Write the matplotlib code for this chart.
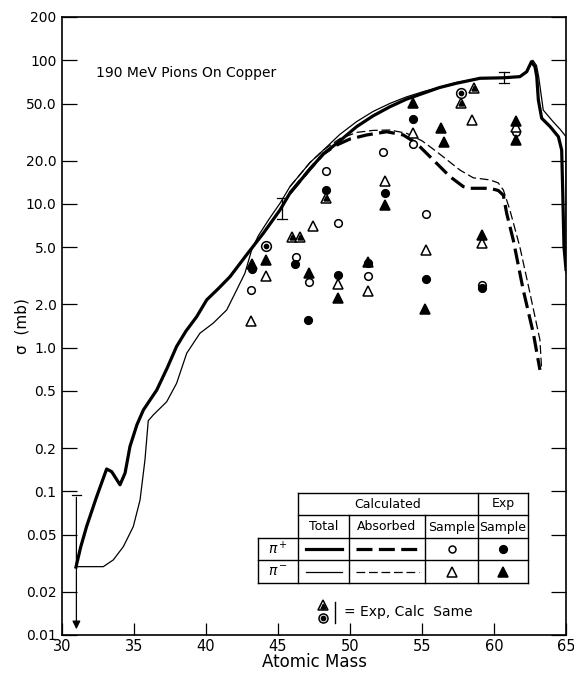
import numpy as np
import matplotlib
matplotlib.use("Agg")
import matplotlib.pyplot as plt
from matplotlib.lines import Line2D
from matplotlib.ticker import FixedLocator, FixedFormatter, NullLocator

# pi+ total cross section (thick solid)
a_tot_plus = [30.97, 31.3, 31.71, 32.41, 33.1, 33.45, 34.03, 34.38, 34.72, 35.2, 35.65, 36.58, 37.3,
              37.96, 38.6, 39.35, 40.05, 40.9, 41.67, 42.8, 43.98, 45.14, 45.83, 47.22, 48.15, 49.3,
              50.46, 51.6, 52.78, 53.9, 55.09, 56.2, 57.4, 59.03, 60.65, 61.8, 62.27, 62.6, 62.85,
              62.97, 63.08, 63.31, 63.9, 64.47, 64.7, 64.77, 64.86, 65.0]
s_tot_plus = [0.0297, 0.041, 0.057, 0.092, 0.143, 0.137, 0.111, 0.134, 0.205, 0.29, 0.368, 0.507, 0.72,
              1.02, 1.3, 1.64, 2.15, 2.6, 3.12, 4.4, 6.25, 9.08, 11.9, 17.5, 22.3, 27.5,
              34.5, 41.0, 47.5, 53.5, 58.9, 64.5, 69.2, 74.9, 75.5, 76.9, 83.2, 97.7, 90.0,
              76.9, 52.9, 39.5, 34.5, 29.4, 23.7, 12.5, 5.04, 3.5]

# pi- total cross section (thin solid)
a_tot_minus = [30.97, 32.87, 33.56, 34.26, 34.95, 35.42, 35.76, 35.99, 36.34, 37.27, 37.96, 38.66, 39.58,
               40.5, 41.44, 42.13, 42.7, 43.17, 43.63, 44.4, 45.14, 45.83, 47.22, 48.15, 49.3, 50.46,
               51.6, 52.78, 53.9, 55.09, 57.4, 59.03, 60.65, 61.8, 62.3, 62.7, 62.95, 63.1, 63.42,
               64.1, 64.6, 65.0, 65.0]
s_tot_minus = [0.0299, 0.0299, 0.0333, 0.0412, 0.0568, 0.087, 0.165, 0.31, 0.34, 0.42, 0.565, 0.914, 1.26,
               1.48, 1.83, 2.52, 3.29, 4.78, 6.0, 7.9, 10.1, 13.2, 19.4, 23.7, 30.5, 37.4,
               44.0, 50.1, 55.5, 60.5, 70.0, 75.0, 75.5, 77.0, 84.0, 100.0, 92.0, 77.0, 45.0,
               37.4, 33.0, 29.4, 3.3]

# absorbed cross sections (dashed)
a_abs_plus = [45.83, 47.22, 48.15, 49.0, 50.0, 51.16, 52.55, 53.7, 54.6, 55.56, 56.94, 57.87, 58.33,
              59.72, 60.3, 60.65, 60.88, 61.34, 62.03, 62.73, 63.19]
s_abs_plus = [11.9, 17.5, 22.3, 25.5, 28.3, 30.2, 31.8, 30.2, 26.5, 21.3, 15.5, 13.2, 12.85,
              12.85, 12.4, 11.5, 8.6, 5.6, 2.52, 1.26, 0.70]
a_abs_minus = [45.83, 47.22, 48.15, 49.3, 50.5, 51.6, 52.78, 53.94, 55.0, 56.02, 57.64, 58.56, 59.72,
               60.3, 60.65, 61.1, 61.8, 62.5, 63.19, 63.31]
s_abs_minus = [13.2, 19.4, 23.7, 28.5, 31.5, 32.5, 32.7, 31.0, 27.5, 23.1, 17.2, 15.2, 14.7,
               14.0, 12.5, 9.1, 5.0, 2.39, 1.13, 0.70]

# calculated samples
calc_plus_a = [54.4, 52.3, 48.3, 55.3, 49.2, 46.25, 43.1, 47.15, 51.25, 59.2, 61.5]
calc_plus_s = [26.1, 23.0, 16.9, 8.5, 7.4, 4.28, 2.52, 2.87, 3.15, 2.73, 31.7]
calc_minus_a = [54.4, 52.4, 47.4, 44.2, 43.1, 49.2, 51.25, 55.3, 58.5, 61.5, 59.2]
calc_minus_s = [31.2, 14.4, 7.0, 3.15, 1.53, 2.78, 2.48, 4.78, 38.4, 34.3, 5.35]

# experimental samples
exp_plus_a = [54.4, 52.4, 48.3, 46.2, 47.1, 49.2, 51.25, 55.3, 59.2, 43.2]
exp_plus_s = [39.0, 11.9, 12.5, 3.82, 1.56, 3.2, 3.9, 3.0, 2.6, 3.55]
exp_minus_a = [54.4, 52.4, 44.2, 47.15, 49.2, 51.25, 55.2, 56.3, 56.5, 61.5, 61.5, 59.2, 43.2]
exp_minus_s = [50.4, 9.8, 4.1, 3.3, 2.2, 3.95, 1.85, 33.8, 27.0, 37.8, 27.9, 6.1, 3.8]

# experiment and calculation agree
same_tri_a = [48.3, 46.0, 46.5, 57.7, 58.6]
same_tri_s = [11.0, 5.9, 5.9, 50.4, 64.0]
same_circ_a = [44.2, 57.7]
same_circ_s = [5.1, 59.2]

# error bars
err_a = [45.3, 60.7]
err_lo = [7.9, 70.0]
err_hi = [11.0, 83.0]

# upper limit at A = 31
lim_a = 31.0
lim_top = 0.095
lim_bottom = 0.0105

ytick_vals = [0.01, 0.02, 0.05, 0.1, 0.2, 0.5, 1.0, 2.0, 5.0, 10.0, 20.0, 50.0, 100.0, 200.0]
ytick_labels = ["0.01", "0.02", "0.05", "0.1", "0.2", "0.5", "1.0", "2.0", "5.0", "10.0",
                "20.0", "50.0", "100", "200"]
xtick_vals = [30, 35, 40, 45, 50, 55, 60, 65]

W, H = 574, 673
fig = plt.figure(figsize=(W / 100, H / 100), dpi=100)
ax = fig.add_axes([62 / W, (H - 635) / H, 504 / W, 618 / H])

thick = 2.3
thin = 0.9
ax.plot(a_tot_plus, s_tot_plus, color="black", lw=thick, solid_joinstyle="round")
ax.plot(a_tot_minus, s_tot_minus, color="black", lw=thin)
ax.plot(a_abs_plus, s_abs_plus, color="black", lw=thick, dashes=(5, 2))
ax.plot(a_abs_minus, s_abs_minus, color="black", lw=thin, dashes=(7, 3))

mk = dict(linestyle="none", color="black", markeredgewidth=1.1)
ax.plot(calc_plus_a, calc_plus_s, marker="o", ms=5.5, mfc="white", **mk)
ax.plot(exp_plus_a, exp_plus_s, marker="o", ms=5.5, mfc="black", **mk)
ax.plot(calc_minus_a, calc_minus_s, marker="^", ms=7, mfc="white", **mk)
ax.plot(exp_minus_a, exp_minus_s, marker="^", ms=7, mfc="black", **mk)
ax.plot(same_tri_a, same_tri_s, marker="^", ms=7.5, mfc="white", **mk)
ax.plot(same_tri_a, same_tri_s, marker="^", ms=3.5, mfc="black", **mk)
ax.plot(same_circ_a, same_circ_s, marker="o", ms=7, mfc="white", **mk)
ax.plot(same_circ_a, same_circ_s, marker="o", ms=3, mfc="black", **mk)

for a, lo, hi in zip(err_a, err_lo, err_hi):
    ax.plot([a, a], [lo, hi], color="black", lw=0.9)
    ax.plot([a - 0.35, a + 0.35], [lo, lo], color="black", lw=0.9)
    ax.plot([a - 0.35, a + 0.35], [hi, hi], color="black", lw=0.9)

ax.plot([lim_a - 0.3, lim_a + 0.3], [lim_top, lim_top], color="black", lw=0.9)
ax.annotate("", xy=(lim_a, lim_bottom), xytext=(lim_a, lim_top),
            arrowprops=dict(arrowstyle="-|>", color="black", lw=0.9, mutation_scale=12))

ax.set_xlim(30, 65)
ax.set_yscale("log")
ax.set_ylim(0.01, 200)
ax.yaxis.set_major_locator(FixedLocator(ytick_vals))
ax.yaxis.set_major_formatter(FixedFormatter(ytick_labels))
ax.yaxis.set_minor_locator(NullLocator())
ax.set_xticks(xtick_vals)
ax.set_xticklabels([str(v) for v in xtick_vals])
ax.tick_params(axis="y", which="major", direction="in", length=11, width=0.9,
               right=True, labelsize=10, pad=4)
ax.tick_params(axis="x", which="major", direction="in", length=9, width=0.9,
               labelsize=10.5, pad=3)
for sp in ax.spines.values():
    sp.set_linewidth(1.2)

ax.set_xlabel("Atomic Mass", fontsize=12, labelpad=-1)
ax.set_ylabel("σ  (mb)", fontsize=11)
ax.yaxis.set_label_coords(-0.065, 0.5)
ax.text(32.35, 81, "190 MeV Pions On Copper", fontsize=10, va="center", ha="left")

# legend table drawn in figure pixels
def px(x, y):
    return x / W, (H - y) / H

def hline(x0, x1, y, lw=1.0, **kw):
    (fx0, fy), (fx1, _) = px(x0, y), px(x1, y)
    fig.add_artist(Line2D([fx0, fx1], [fy, fy], color="black", lw=lw, **kw))

def vline(x, y0, y1, lw=1.0):
    (fx, fy0), (_, fy1) = px(x, y0), px(x, y1)
    fig.add_artist(Line2D([fx, fx], [fy0, fy1], color="black", lw=lw))

tx = [258, 298, 349, 425, 478, 528]
ty = [493, 515, 538, 560, 583]
hline(298, 528, ty[0])
hline(298, 528, ty[1])
for y in ty[2:]:
    hline(258, 528, y)
vline(258, ty[2], ty[4])
vline(298, ty[0], ty[4])
vline(349, ty[1], ty[4])
vline(425, ty[1], ty[4])
vline(478, ty[0], ty[4])
vline(528, ty[0], ty[4])

tk = dict(fontsize=9, ha="center", va="center")
fig.text(*px(388, 504), "Calculated", **tk)
fig.text(*px(503, 504), "Exp", **tk)
fig.text(*px(323.5, 527), "Total", **tk)
fig.text(*px(387, 527), "Absorbed", **tk)
fig.text(*px(451.5, 527), "Sample", **tk)
fig.text(*px(503, 527), "Sample", **tk)
fig.text(*px(278, 549), r"$\pi^+$", fontsize=10, ha="center", va="center")
fig.text(*px(278, 571.5), r"$\pi^-$", fontsize=10, ha="center", va="center")

hline(306, 342, 549, lw=thick)
hline(356, 419, 549, lw=thick, dashes=(5, 2))
hline(306, 342, 571.5, lw=thin)
hline(356, 419, 571.5, lw=thin, dashes=(7, 3))

def marker(x, y, m, ms, fc):
    fx, fy = px(x, y)
    fig.add_artist(Line2D([fx], [fy], marker=m, ms=ms, mfc=fc, mec="black",
                          mew=1.1, linestyle="none"))

marker(451.5, 549, "o", 5, "white")
marker(503, 549, "o", 5.5, "black")
marker(451.5, 571.5, "^", 6.5, "white")
marker(503, 571.5, "^", 6.5, "black")

marker(323, 605, "^", 7, "white")
marker(323, 606, "^", 3.5, "black")
marker(323, 618, "o", 6.5, "white")
marker(323, 618, "o", 3, "black")
vline(335, 602, 623)
fig.text(*px(344, 612), "= Exp, Calc  Same", fontsize=10, ha="left", va="center")

fig.savefig("out.png", dpi=100)
